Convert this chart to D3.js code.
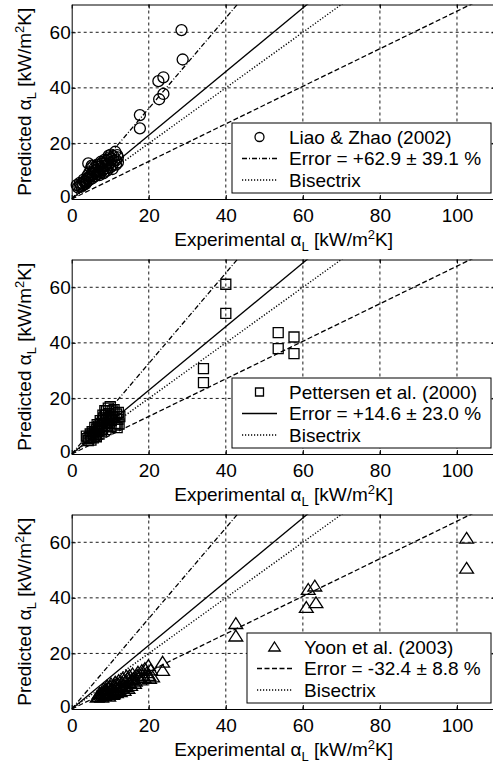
<!DOCTYPE html>
<html>
<head>
<meta charset="utf-8">
<script src="https://cdn.jsdelivr.net/npm/d3@7"></script>
<style>
  body { margin: 0; background: #fff; }
  svg { display: block; font-family: "Liberation Sans", Arial, sans-serif; }
</style>
</head>
<body>
<svg id="chart"></svg>
<script>
// values: [experimental, predicted] in kW/m2K
const liaoPoints = [
  [1.3, 5], [1.6, 4.2], [2, 4.5], [2.1, 5.8], [2.3, 5.2], [2.5, 4.4], [2.8, 5.6], [3, 5],
  [3.1, 7], [3.2, 6.2], [3.5, 6.6], [3.6, 5.4], [3.8, 6], [4, 7.2], [4.1, 8.4], [4.3, 12.8],
  [4.2, 7.6], [4.5, 6.8], [4.6, 9.6], [4.8, 8.2], [5, 8.6], [5, 11], [5.2, 12], [5.3, 7.4],
  [5.5, 9], [5.6, 11.8], [5.8, 10], [6, 9.4], [6, 11.2], [6.1, 8.2], [6.3, 10.5], [6.5, 8.8],
  [6.6, 12.4], [6.8, 11.6], [7, 10], [7, 12.2], [7.2, 8.6], [7.3, 9.4], [7.5, 11], [7.6, 13.4],
  [7.8, 12.6], [8, 10.4], [8, 13.2], [8.2, 9.2], [8.3, 11.8], [8.5, 9.8], [8.6, 14.2],
  [8.8, 12], [9, 13.6], [9, 11], [9.2, 10.2], [9.3, 14.2], [9.5, 12.5], [9.6, 15.6],
  [9.8, 15], [10, 13], [10, 11.4], [10.2, 16], [10.3, 14.5], [10.5, 12], [10.6, 10.8],
  [10.8, 15.4], [11, 13.8], [11.3, 17], [11.5, 14], [11.5, 12.4], [11.8, 15.8],
  [12, 15], [12, 13.2],
  [17.7, 30.2], [17.7, 25.4], [22.5, 42.4], [23.8, 43.8], [22.7, 35.9], [23.8, 37.8],
  [28.5, 60.8], [28.8, 50.2]
];
const pettersenPoints = [
  [3.8, 6.4], [4, 5.5], [4.3, 4.8], [4.5, 6], [4.8, 7.2], [5, 6.5], [5, 5], [5.3, 8],
  [5.5, 7.5], [5.6, 5.8], [5.8, 6.8], [6, 8], [6, 9.6], [6.2, 7], [6.4, 6.2], [6.5, 9],
  [6.6, 10.6], [6.8, 8], [7, 10], [7, 8.5], [7.1, 7.2], [7.3, 9.5], [7.4, 12], [7.5, 11],
  [7.7, 8.2], [7.8, 10], [8, 12], [8, 9], [8.1, 14], [8.3, 13], [8.4, 10.2], [8.5, 11],
  [8.6, 15.6], [8.8, 14], [8.9, 8.8], [9, 12.5], [9, 15.5], [9.2, 11], [9.3, 10],
  [9.5, 16.5], [9.5, 13], [9.6, 14.5], [9.8, 11.5], [10, 17], [10, 14], [10.2, 9.8],
  [10.3, 12], [10.5, 15.5], [10.6, 13.4], [11, 13], [11, 16], [11.2, 10.4], [11.5, 11],
  [11.6, 14.4], [12.1, 15], [12, 12.5], [12.3, 10.8], [12.5, 13.5], [11.8, 9.5],
  [34.2, 30.7], [34.2, 25.7], [40, 61.1], [40, 50.6],
  [53.6, 43.7], [57.7, 42.1], [53.6, 37.9], [57.7, 36.1]
];
const yoonPoints = [
  [6.6, 4.2], [7, 4.5], [7.2, 5.6], [7.5, 5], [7.8, 4.2], [8, 5.5], [8.2, 6], [8.3, 7.2],
  [8.5, 4.8], [8.8, 6.5], [9, 5.2], [9, 7], [9.2, 8.2], [9.3, 6], [9.5, 7.5], [9.6, 4.6],
  [9.8, 5.8], [10, 6.5], [10, 8], [10.2, 9], [10.5, 7], [10.6, 5.2], [10.8, 5.5], [11, 8.5],
  [11, 6.8], [11.3, 9.6], [11.5, 7.5], [11.6, 5.8], [12, 9], [12, 7], [12.2, 10.2],
  [12.5, 8], [12.6, 6.2], [13, 9.5], [13, 7.5], [13.2, 11], [13.5, 8.5], [13.6, 6.6],
  [14, 10], [14, 8], [14.2, 11.8], [14.5, 11], [14.6, 7.4], [15, 9.5], [15, 12],
  [15.3, 8.4], [15.5, 10.5], [15.8, 12.6], [16, 11], [16.3, 9.2], [16.5, 10], [17, 12],
  [17.2, 13.2], [17.5, 11.5], [17.8, 10.4], [18.2, 13.8], [18.5, 12], [18.8, 11.2],
  [19, 14.5], [19.5, 13], [19.9, 15.6], [20, 12], [20.2, 11], [20.5, 14], [21, 11.5],
  [23.6, 16.8], [23.6, 13.8], [42.6, 30.7], [42.6, 26.2],
  [61.4, 43], [63.1, 44.2], [60.9, 36.5], [63.4, 38.2], [102.5, 61.4], [102.5, 50.6]
];

const sourceNames = ["Liao & Zhao (2002)", "Pettersen et al. (2000)", "Yoon et al. (2003)"];
const meanErrors = [62.9, 14.6, -32.4];
const stdErrors = [39.1, 23.0, 8.8];
const xTicks = [0, 20, 40, 60, 80, 100];
const yTicks = [0, 20, 40, 60];
const xDomain = [0, 110];
const yDomain = [0, 70];

// line style of each correlation (same order as sources)
const dashes = ["5,2,1,2", null, "5,2.5"];
const bisectrixDash = "1.2,1.8";

const svgWidth = 493, svgHeight = 767;
const svg = d3.select("#chart").attr("width", svgWidth).attr("height", svgHeight);

function markerPath(type, size) {
  if (type === "circle") {
    return d3.symbol().type(d3.symbolCircle).size(Math.PI * size * size)();
  }
  if (type === "square") {
    const h = size;
    return `M${-h},${-h}H${h}V${h}H${-h}Z`;
  }
  // matlab-ish triangle, a bit squat
  return `M0,${-size}L${size * 1.15},${size * 0.8}L${-size * 1.15},${size * 0.8}Z`;
}

function createPanel(index, top, points, marker, legendLeft) {
  const left = 71.7, right = 495.5, height = 194.5;
  const fs = 19;

  const xscale = d3.scaleLinear().domain(xDomain).range([left, right]);
  const yscale = d3.scaleLinear().domain(yDomain).range([top + height, top]);

  const g = svg.append("g");

  const clipId = `clip${index}`;
  svg.append("clipPath").attr("id", clipId)
    .append("rect")
    .attr("x", left).attr("y", top)
    .attr("width", right - left).attr("height", height);

  // grid
  g.append("g").selectAll("line")
    .data(xTicks.slice(1))
    .join("line")
    .attr("x1", (d) => xscale(d)).attr("x2", (d) => xscale(d))
    .attr("y1", top).attr("y2", top + height)
    .attr("stroke", "#000").attr("stroke-width", 0.9)
    .attr("stroke-dasharray", "3,3");
  g.append("g").selectAll("line")
    .data(yTicks.slice(1))
    .join("line")
    .attr("y1", (d) => yscale(d)).attr("y2", (d) => yscale(d))
    .attr("x1", left).attr("x2", right)
    .attr("stroke", "#000").attr("stroke-width", 0.9)
    .attr("stroke-dasharray", "3,3");

  // correlation lines + bisectrix
  const lineGen = d3.line().x((d) => xscale(d[0])).y((d) => yscale(d[1]));
  const lines = g.append("g").attr("clip-path", `url(#${clipId})`);
  meanErrors.forEach((err, i) => {
    const slope = 1 + err / 100;
    lines.append("path")
      .attr("d", lineGen([[0, 0], [xDomain[1], xDomain[1] * slope]]))
      .attr("fill", "none").attr("stroke", "#000").attr("stroke-width", 1.3)
      .attr("stroke-dasharray", dashes[i]);
  });
  lines.append("path")
    .attr("d", lineGen([[0, 0], [xDomain[1], xDomain[1]]]))
    .attr("fill", "none").attr("stroke", "#000").attr("stroke-width", 1.4)
    .attr("stroke-dasharray", bisectrixDash);

  // markers
  const msize = marker === "circle" ? 5.5 : (marker === "square" ? 5 : 6);
  g.append("g").selectAll("path")
    .data(points)
    .join("path")
    .attr("d", markerPath(marker, msize))
    .attr("transform", (d) => `translate(${xscale(d[0])},${yscale(d[1])})`)
    .attr("fill", "none").attr("stroke", "#000").attr("stroke-width", 1.3);

  // axes frame with inward ticks
  const axisG = g.append("g");
  const xaxisB = d3.axisBottom(xscale).tickValues(xTicks).tickSizeInner(-4).tickSizeOuter(0).tickPadding(10);
  const gx = axisG.append("g").attr("transform", `translate(0,${top + height})`).call(xaxisB);
  const yaxisL = d3.axisLeft(yscale).tickValues(yTicks).tickSizeInner(-4).tickSizeOuter(0).tickPadding(1);
  const gy = axisG.append("g").attr("transform", `translate(${left},0)`).call(yaxisL);
  const xaxisT = d3.axisTop(xscale).tickValues(xTicks).tickSizeInner(-4).tickSizeOuter(0).tickFormat("");
  axisG.append("g").attr("transform", `translate(0,${top})`).call(xaxisT);
  const yaxisR = d3.axisRight(yscale).tickValues(yTicks).tickSizeInner(-4).tickSizeOuter(0).tickFormat("");
  axisG.append("g").attr("transform", `translate(${right},0)`).call(yaxisR);
  axisG.selectAll(".domain").attr("stroke", "#000").attr("stroke-width", 1);
  axisG.selectAll(".tick line").attr("stroke", "#000");
  axisG.selectAll("text").attr("font-family", "Liberation Sans, Arial, sans-serif")
    .attr("font-size", fs).attr("fill", "#000");
  gx.selectAll(".tick text").attr("dy", "0.71em");
  // lift the y "0" a touch so it doesn't sit on the x "0"
  gy.selectAll(".tick text").filter((d) => d === 0).attr("dy", "0.2em");

  // axis labels
  const xl = g.append("text")
    .attr("x", (left + right) / 2).attr("y", top + height + 47)
    .attr("text-anchor", "middle").attr("font-size", fs);
  xl.append("tspan").text("Experimental α");
  xl.append("tspan").attr("font-size", 13).attr("dy", 5).text("L");
  xl.append("tspan").attr("dy", -5).text(" [kW/m");
  xl.append("tspan").attr("font-size", 13).attr("dy", -7).text("2");
  xl.append("tspan").attr("dy", 7).text("K]");

  const yl = g.append("text")
    .attr("transform", `translate(31,${top + height / 2}) rotate(-90)`)
    .attr("text-anchor", "middle").attr("font-size", fs);
  yl.append("tspan").text("Predicted α");
  yl.append("tspan").attr("font-size", 13).attr("dy", 5).text("L");
  yl.append("tspan").attr("dy", -5).text(" [kW/m");
  yl.append("tspan").attr("font-size", 13).attr("dy", -7).text("2");
  yl.append("tspan").attr("dy", 7).text("K]");

  // legend
  const lgTop = top + height - 76;
  const lg = g.append("g");
  lg.append("rect")
    .attr("x", legendLeft).attr("y", lgTop)
    .attr("width", 491 - legendLeft).attr("height", 70)
    .attr("fill", "#fff").attr("stroke", "#000").attr("stroke-width", 1);
  const rows = [lgTop + 14, lgTop + 35.5, lgTop + 57];
  const s0 = legendLeft + 10, s1 = legendLeft + 45, tx = legendLeft + 57;
  lg.append("path")
    .attr("d", markerPath(marker, msize - 1))
    .attr("transform", `translate(${(s0 + s1) / 2},${rows[0]})`)
    .attr("fill", "none").attr("stroke", "#000").attr("stroke-width", 1.3);
  lg.append("line")
    .attr("x1", s0).attr("x2", s1).attr("y1", rows[1]).attr("y2", rows[1])
    .attr("stroke", "#000").attr("stroke-width", 1.3).attr("stroke-dasharray", dashes[index]);
  lg.append("line")
    .attr("x1", s0).attr("x2", s1).attr("y1", rows[2]).attr("y2", rows[2])
    .attr("stroke", "#000").attr("stroke-width", 1.4).attr("stroke-dasharray", bisectrixDash);

  const sign = meanErrors[index] >= 0 ? "+" : "";
  const labels = [
    sourceNames[index],
    `Error = ${sign}${meanErrors[index].toFixed(1)} ± ${stdErrors[index].toFixed(1)} %`,
    "Bisectrix"
  ];
  lg.selectAll("text.lbl")
    .data(labels)
    .join("text")
    .attr("class", "lbl")
    .attr("x", tx).attr("y", (d, i) => rows[i])
    .attr("dy", "0.35em")
    .attr("font-size", fs)
    .text((d) => d);
}

createPanel(0, 4.5, liaoPoints, "circle", 232);
createPanel(1, 259.5, pettersenPoints, "square", 232);
createPanel(2, 514.5, yoonPoints, "triangle", 247);
</script>
</body>
</html>
